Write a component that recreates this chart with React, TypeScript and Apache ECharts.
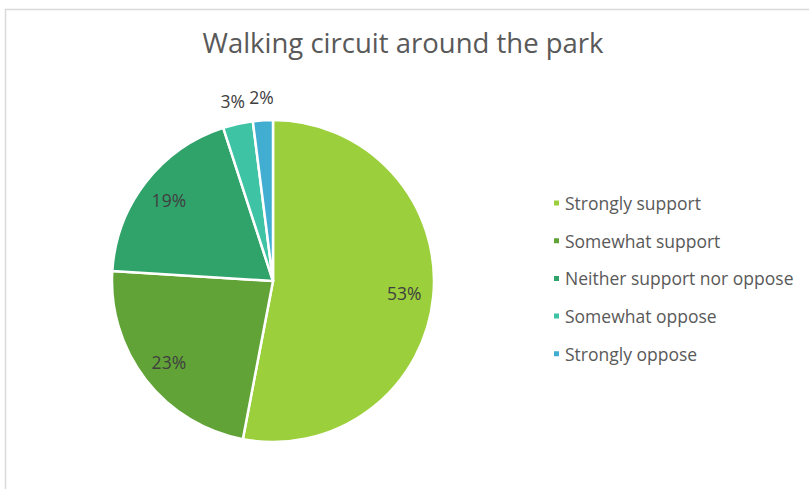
import React, { useEffect, useRef } from "react";
import * as echarts from "echarts";

const categories = [
  "Strongly support",
  "Somewhat support",
  "Neither support nor oppose",
  "Somewhat oppose",
  "Strongly oppose",
];
const values = [53, 23, 19, 3, 2];
const colors = ["#9BCF3B", "#61A337", "#30A36B", "#3FC3A5", "#40ADD1"];
const outsideLabels = [false, false, false, true, true];

const FONT = "'Open Sans', Lato, sans-serif";

export default function App() {
  const ref = useRef<HTMLDivElement>(null);
  useEffect(() => {
    document.body.style.margin = "0";
    const chart = echarts.init(ref.current!, undefined, { renderer: "svg" });
    const cx = 273;
    const cy = 281;
    const r = 161;
    const main = categories.map((name, i) => ({
      name,
      value: values[i],
      itemStyle: { color: colors[i] },
    }));
    const labelStyle = {
      formatter: (p: any) => `${p.value}%`,
      color: "#404040",
      fontSize: 17.5,
      fontFamily: FONT,
    };
    chart.setOption({
      animation: false,
      title: {
        text: "Walking circuit around the park",
        left: 398,
        textAlign: "center",
        top: 23,
        textStyle: { color: "#595959", fontSize: 27.5, fontWeight: "normal", fontFamily: FONT },
      },
      legend: {
        orient: "vertical",
        left: 547,
        top: 189,
        icon: "rect",
        itemWidth: 7,
        itemHeight: 7,
        itemGap: 19.7,
        data: categories,
        textStyle: { color: "#595959", fontSize: 17.5, lineHeight: 16, fontFamily: FONT },
      },
      graphic: [
        {
          type: "rect",
          shape: { x: 5.5, y: 9.5, width: 900, height: 700 },
          style: { fill: "none", stroke: "#D9D9D9", lineWidth: 1.5 },
          silent: true,
          z: -10,
        },
      ],
      series: [
        {
          type: "pie",
          center: [cx, cy],
          radius: [0, r],
          startAngle: 90,
          clockwise: true,
          label: { show: false },
          labelLine: { show: false },
          itemStyle: { borderColor: "#FFFFFF", borderWidth: 2.5 },
          emphasis: { disabled: true },
          data: main,
        },
        {
          type: "pie",
          center: [cx, cy],
          radius: [r * 0.6, r],
          startAngle: 90,
          clockwise: true,
          silent: true,
          avoidLabelOverlap: false,
          legendHoverLink: false,
          itemStyle: { color: "rgba(0,0,0,0)" },
          label: { show: true, position: "inside", ...labelStyle },
          labelLine: { show: false },
          emphasis: { disabled: true },
          data: categories.map((name, i) => ({
            name: name + " ",
            value: values[i],
            label: { show: !outsideLabels[i] },
          })),
        },
        {
          type: "pie",
          center: [cx, cy],
          radius: [r, r * 1.25],
          startAngle: 90,
          clockwise: true,
          silent: true,
          avoidLabelOverlap: false,
          legendHoverLink: false,
          itemStyle: { color: "rgba(0,0,0,0)" },
          label: { show: true, position: "inside", ...labelStyle },
          labelLine: { show: false },
          emphasis: { disabled: true },
          data: categories.map((name, i) => ({
            name: name + "  ",
            value: values[i],
            label: { show: outsideLabels[i] },
          })),
        },
      ],
    });
    return () => chart.dispose();
  }, []);
  return <div ref={ref} style={{ width: 809, height: 489 }} />;
}
